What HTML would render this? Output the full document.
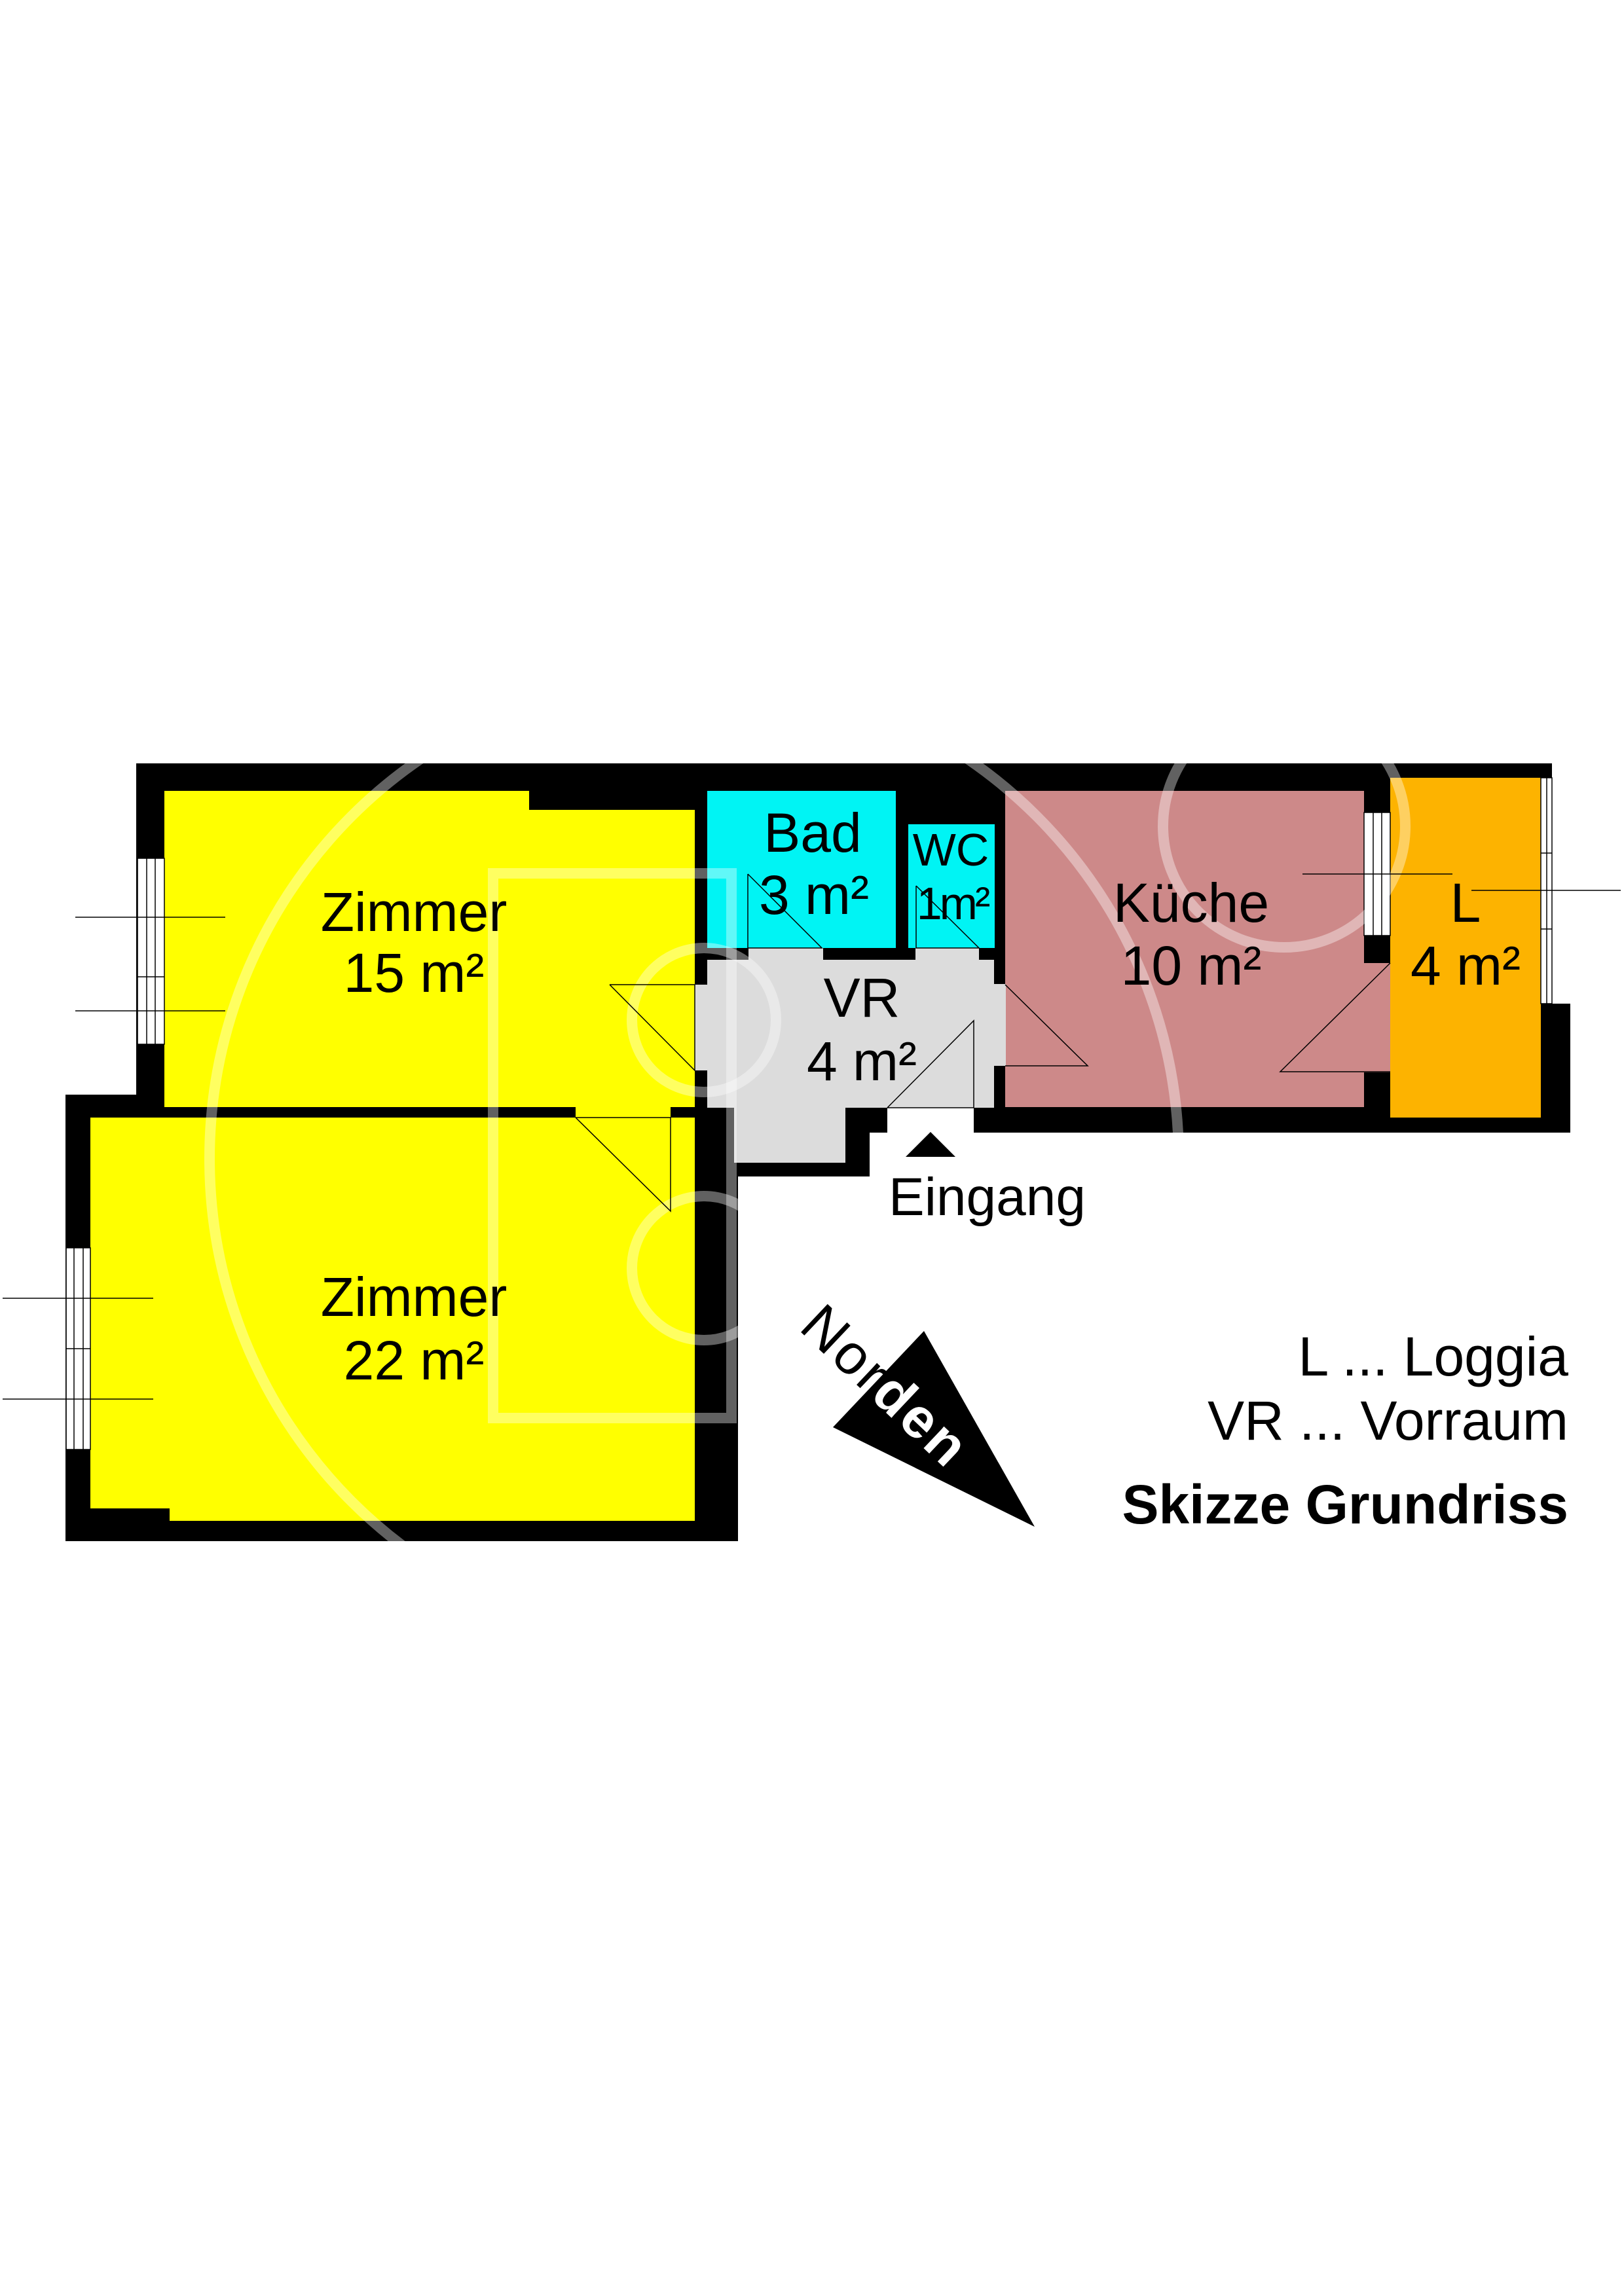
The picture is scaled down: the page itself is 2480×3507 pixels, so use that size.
<!DOCTYPE html>
<html><head><meta charset="utf-8"><style>
html,body{margin:0;padding:0;background:#fff;}
svg{display:block;}
text{font-family:"Liberation Sans",Arial,sans-serif;fill:#000;}
</style></head><body>
<svg width="2480" height="3507" viewBox="0 0 2480 3507" xmlns="http://www.w3.org/2000/svg">
<defs>
<clipPath id="bld">
<rect x="208" y="1166" width="2162" height="526"/>
<rect x="100" y="1672" width="1027" height="682"/>
<rect x="1061" y="1691" width="267" height="106"/>
<rect x="1328" y="1691" width="27" height="39"/>
<rect x="1487" y="1691" width="911" height="39"/>
<rect x="2353" y="1533" width="45" height="197"/>
</clipPath>
</defs>
<rect width="2480" height="3507" fill="#fff"/>
<!-- black walls -->
<g fill="#000">
<rect x="208" y="1166" width="2162" height="526"/>
<rect x="100" y="1672" width="1027" height="682"/>
<rect x="1061" y="1691" width="267" height="106"/>
<rect x="1328" y="1691" width="27" height="39"/>
<rect x="1487" y="1691" width="911" height="39"/>
<rect x="2353" y="1533" width="45" height="197"/>
</g>
<!-- rooms -->
<polygon points="251,1208 808,1208 808,1237 1061,1237 1061,1691 251,1691" fill="#ffff00"/>
<polygon points="138,1707 1061,1707 1061,2323 259,2323 259,2304 138,2304" fill="#ffff00"/>
<rect x="879" y="1690" width="145" height="18" fill="#ffff00"/>
<rect x="1080" y="1208" width="288" height="240" fill="#00f4f4"/>
<rect x="1387" y="1259" width="132" height="189" fill="#00f4f4"/>
<rect x="1535" y="1208" width="548" height="483" fill="#cd8989"/>
<rect x="2082" y="1471" width="42" height="167" fill="#cd8989"/>
<rect x="2123" y="1188" width="230" height="519" fill="#fdb300"/>
<g fill="#dcdcdc">
<rect x="1080" y="1466" width="438" height="226"/>
<rect x="1143" y="1448" width="114" height="19"/>
<rect x="1398" y="1448" width="97" height="19"/>
<rect x="1061" y="1504" width="20" height="131"/>
<rect x="1517" y="1503" width="19" height="125"/>
<rect x="1121" y="1691" width="170" height="85"/>
</g>
<rect x="1355" y="1692" width="132" height="40" fill="#fff"/>
<!-- windows -->
<g fill="#fff" stroke="#000" stroke-width="1.5">
<rect x="210" y="1311" width="41" height="284"/>
<rect x="101" y="1906" width="37" height="308"/>
<rect x="2083" y="1241" width="40" height="188"/>
<rect x="2353" y="1188" width="17" height="345"/>
</g>
<!-- watermark -->
<g fill="none" stroke="#fff" stroke-opacity="0.38" stroke-width="16" clip-path="url(#bld)">
<circle cx="1060" cy="1770" r="740"/>
<rect x="753" y="1334" width="364" height="832"/>
<circle cx="1075" cy="1558" r="110"/>
<circle cx="1075" cy="1937" r="110"/>
<circle cx="1961" cy="1262" r="185"/>
</g>
<g stroke="#000" stroke-width="1.5" fill="none">
<line x1="224" y1="1311" x2="224" y2="1595"/><line x1="237" y1="1311" x2="237" y2="1595"/><line x1="210" y1="1492" x2="251" y2="1492"/>
<line x1="115" y1="1401" x2="344" y2="1401"/><line x1="115" y1="1544" x2="344" y2="1544"/>
<line x1="113" y1="1906" x2="113" y2="2214"/><line x1="127" y1="1906" x2="127" y2="2214"/><line x1="101" y1="2060" x2="138" y2="2060"/>
<line x1="4" y1="1983" x2="234" y2="1983"/><line x1="4" y1="2137" x2="234" y2="2137"/>
<line x1="2097" y1="1241" x2="2097" y2="1429"/><line x1="2110" y1="1241" x2="2110" y2="1429"/>
<line x1="1989" y1="1335" x2="2218" y2="1335"/>
<line x1="2362" y1="1188" x2="2362" y2="1533"/><line x1="2353" y1="1303" x2="2370" y2="1303"/><line x1="2353" y1="1419" x2="2370" y2="1419"/>
<line x1="2247" y1="1360" x2="2475" y2="1360"/>
<polyline points="879,1707 1024,1707 1024,1850 879,1707"/>
<polyline points="931,1504 1061,1504 1061,1635 931,1504"/>
<polyline points="1142,1335 1142,1448 1255,1448 1142,1335"/>
<polyline points="1399,1353 1399,1448 1495,1448 1399,1353"/>
<polyline points="1535,1504 1661,1628 1535,1628"/>
<polyline points="2123,1471 1955,1637 2123,1637"/>
<polyline points="1355,1692 1487,1559 1487,1692 1355,1692"/>
</g>
<!-- eingang -->
<polygon points="1383,1767 1459,1767 1421,1729"/>
<text x="1357" y="1856" font-size="82">Eingang</text>
<!-- room labels -->
<g font-size="84" text-anchor="middle">
<text x="632" y="1422">Zimmer</text><text x="632" y="1515">15 m²</text>
<text x="632" y="2010">Zimmer</text><text x="632" y="2107">22 m²</text>
<text x="1241" y="1301">Bad</text><text x="1243" y="1396">3 m²</text>
<text x="1819" y="1408">Küche</text><text x="1819" y="1504">10 m²</text>
<text x="2238" y="1408">L</text><text x="2238" y="1504">4 m²</text>
<text x="1316" y="1553">VR</text><text x="1316" y="1650">4 m²</text>
</g>
<g font-size="70" text-anchor="middle">
<text x="1452" y="1322">WC</text><text x="1454" y="1404" letter-spacing="-4">1m²</text>
</g>
<!-- north -->
<polygon points="1411,2033 1272,2180 1580,2332" fill="#000"/>
<text transform="translate(1218,2030) rotate(43.4)" font-size="86" letter-spacing="4">Nor<tspan fill="#fff" font-weight="bold">den</tspan></text>
<!-- legend -->
<g text-anchor="end" font-size="84">
<text x="2395" y="2101">L ... Loggia</text>
<text x="2395" y="2199">VR ... Vorraum</text>
<text x="2395" y="2327" font-weight="bold">Skizze Grundriss</text>
</g>
</svg>
</body></html>
